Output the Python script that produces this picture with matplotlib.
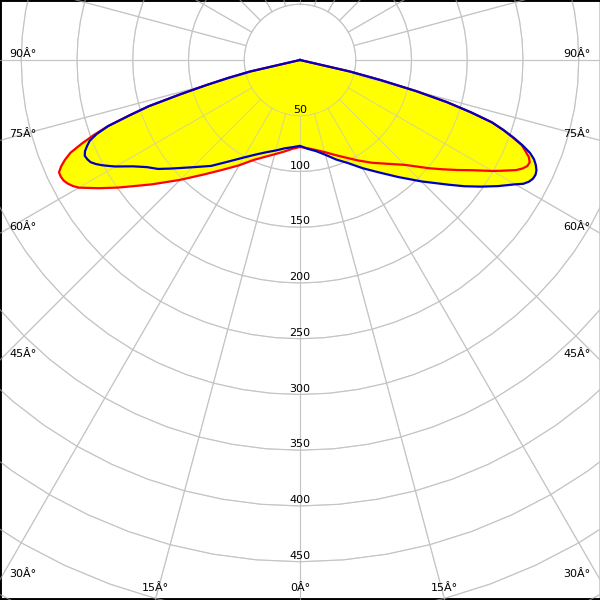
import matplotlib
matplotlib.use("Agg")
import matplotlib.pyplot as plt
import numpy as np

# angles from nadir (deg)
gamma = [0, 5, 10, 15, 20, 25, 30, 35, 40, 45, 50, 52.5, 55, 57.5,
         60, 61, 62, 63, 64, 65, 66, 67, 68, 69, 70, 71, 72, 73, 74, 75, 76, 77, 78,
         80, 85, 90]

# intensities (cd) - red plane, left and right halves
red_left = [78, 80, 83.5, 87.5, 92.5, 99, 109, 120, 134, 152, 173.5, 185.5, 199.5, 214,
            229, 233, 236, 238, 238.7, 238.5, 234.5, 229, 222, 210, 197, 182, 161, 142, 112, 87, 66, 46, 0,
            0, 0, 0]
red_right = [78, 79.5, 82, 85.5, 90.5, 96.5, 104, 112.5, 121.5, 133, 151, 161, 172, 184,
             199, 205, 211, 217.5, 222, 225, 225.5, 223, 218, 213, 203, 193, 181, 160, 137, 108, 75, 46, 0,
             0, 0, 0]
# blue plane
blue_left = [77, 78.5, 80.5, 84, 88, 93.5, 101, 111, 124, 136, 151.5, 160.5, 167.5, 177.5,
             191, 196, 201, 205.5, 209, 210.5, 211.3, 209.5, 206, 202, 194, 182, 161, 142, 112, 87, 66, 46, 0,
             0, 0, 0]
blue_right = [78, 80, 83, 88, 95, 102, 112, 123, 137, 154, 174, 186, 198, 210.5,
              223, 229, 232.5, 234.5, 235, 234, 231.5, 228, 222.5, 214, 204, 193, 181, 160, 137, 108, 75, 46, 0,
              0, 0, 0]

rings = [50, 100, 150, 200, 250, 300, 350, 400, 450]
ang_labels = [0, 15, 30, 45, 60, 75, 90]

s = 1.115  # px per cd
xlim = (-300 / s, 300 / s)
ylim = (-540 / s, 60 / s)


def outline(left, right):
    g = np.radians(gamma)
    l = np.array(left)
    r = np.array(right)
    x = np.concatenate([(-l * np.sin(g))[::-1], (r * np.sin(g))[1:]])
    y = np.concatenate([(-l * np.cos(g))[::-1], (-r * np.cos(g))[1:]])
    return x, y


def grid(z, alpha):
    t = np.radians(np.arange(0, 361, 5))
    for rr in range(50, 650, 50):
        ax.plot(rr * np.sin(t), rr * np.cos(t), color=grid_c, lw=0.8, zorder=z, alpha=alpha)
    for a in range(0, 360, 15):
        ar = np.radians(a)
        ax.plot([50 * np.sin(ar), 1000 * np.sin(ar)], [-50 * np.cos(ar), -1000 * np.cos(ar)],
                color=grid_c, lw=0.8, zorder=z, alpha=alpha)


fig = plt.figure(figsize=(6, 6), dpi=100)
ax = fig.add_axes([0, 0, 1, 1])
ax.set_xlim(*xlim)
ax.set_ylim(*ylim)
ax.set_xticks([])
ax.set_yticks([])

grid_c = "#c4c4c4"
grid(1, 1.0)

rx, ry = outline(red_left, red_right)
bx, by = outline(blue_left, blue_right)
ax.fill(rx, ry, color="#ffff00", lw=0, zorder=2)
ax.fill(bx, by, color="#ffff00", lw=0, zorder=2)

# grid shows through the fill
grid(3, 0.6)

ax.plot(rx, ry, color="#ff0000", lw=1.6, zorder=4, solid_joinstyle="round")
ax.plot(bx, by, color="#0000c0", lw=1.6, zorder=5, solid_joinstyle="round")

# ring labels
for rr in rings:
    ax.annotate(str(rr), (0, -rr), xytext=(0, 4.3), textcoords="offset points",
                ha="center", va="center", fontsize=8, zorder=6)

# angle labels where the rays leave the frame
for a in ang_labels:
    ar = np.radians(a)
    txt = str(a) + "Â°"
    for side in ([-1, 1] if a > 0 else [1]):
        dx = side * np.sin(ar)
        dy = -np.cos(ar)
        tx = (xlim[1] / abs(dx)) if dx != 0 else np.inf
        ty = ylim[0] / dy if dy < 0 else np.inf
        if tx < ty:
            yh = tx * dy
            if side < 0:
                ax.annotate(txt, (xlim[0], yh), xytext=(6.5, 4.3), textcoords="offset points",
                            ha="left", va="center", fontsize=8, zorder=6)
            else:
                ax.annotate(txt, (xlim[1], yh), xytext=(-7, 4.3), textcoords="offset points",
                            ha="right", va="center", fontsize=8, zorder=6)
        else:
            xh = ty * dx
            ax.annotate(txt, (xh, ylim[0]), xytext=(0, 8.6), textcoords="offset points",
                        ha="center", va="center", fontsize=8, zorder=6)

for side in ["left", "top", "bottom"]:
    ax.spines[side].set_color("black")
    ax.spines[side].set_linewidth(2.8)
ax.spines["right"].set_color("#c8c8c8")
ax.spines["right"].set_linewidth(1.2)

fig.savefig("out.png", dpi=100)
